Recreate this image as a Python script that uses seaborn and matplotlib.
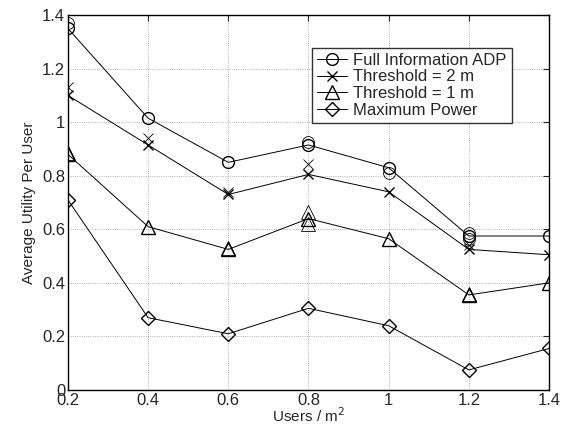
import numpy as np
import pandas as pd
import matplotlib
matplotlib.use('Agg')
import matplotlib.pyplot as plt
import seaborn as sns

sns.set_style('white')
plt.rcParams['font.family'] = ['Liberation Sans', 'DejaVu Sans']
plt.rcParams['font.size'] = 11

# данные
users = [0.2, 0.4, 0.6, 0.8, 1.0, 1.2, 1.4]
full_adp = [1.35, 1.015, 0.85, 0.915, 0.83, 0.575, 0.575]
thr_2m = [1.10, 0.915, 0.73, 0.805, 0.74, 0.525, 0.505]
thr_1m = [0.88, 0.61, 0.525, 0.64, 0.565, 0.355, 0.40]
max_power = [0.71, 0.27, 0.21, 0.305, 0.24, 0.075, 0.155]

# дополнительные (несоединённые) точки
extra_adp_x = [0.2, 0.8, 1.0, 1.2, 1.2]
extra_adp_y = [1.37, 0.925, 0.81, 0.585, 0.565]
extra_2m_x = [0.2, 0.4, 0.6, 0.8, 1.2]
extra_2m_y = [1.13, 0.94, 0.74, 0.845, 0.54]
extra_1m_x = [0.2, 0.6, 0.8, 0.8, 1.2]
extra_1m_y = [0.885, 0.53, 0.665, 0.62, 0.36]

sizes = {'o': 8.5, 'x': 7, '^': 10, 'D': 7.5}

series = [
    ('Full Information ADP', full_adp, 'o', extra_adp_x, extra_adp_y),
    ('Threshold = 2 m', thr_2m, 'x', extra_2m_x, extra_2m_y),
    ('Threshold = 1 m', thr_1m, '^', extra_1m_x, extra_1m_y),
    ('Maximum Power', max_power, 'D', [], []),
]

fig, ax = plt.subplots(figsize=(5.66, 4.30), dpi=100)
fig.subplots_adjust(left=0.12, right=0.97, top=0.965, bottom=0.093)

for name, vals, mk, ex, ey in series:
    ms = sizes[mk]
    df = pd.DataFrame({'x': users, 'y': vals})
    sns.lineplot(data=df, x='x', y='y', ax=ax, color='black', lw=0.7,
                 marker=mk, markersize=ms, markerfacecolor='none',
                 markeredgecolor='black', markeredgewidth=1.0, label=name)
    if ex:
        ax.plot(ex, ey, linestyle='none', marker=mk, markersize=ms,
                markerfacecolor='none', markeredgecolor='black',
                markeredgewidth=0.6)

ax.set_xlim(0.2, 1.4)
ax.set_ylim(0, 1.4)
ax.set_xticks(users)
ax.set_xticklabels(['0.2', '0.4', '0.6', '0.8', '1', '1.2', '1.4'])
ax.set_yticks([0, 0.2, 0.4, 0.6, 0.8, 1, 1.2, 1.4])
ax.set_yticklabels(['0', '0.2', '0.4', '0.6', '0.8', '1', '1.2', '1.4'])
ax.grid(True, linestyle=':', color='#999999', lw=0.6)
ax.tick_params(direction='in', length=4, width=0.8, labelsize=12, pad=2,
               top=True, right=True)
for s in ax.spines.values():
    s.set_color('black')
    s.set_linewidth(1.0)
ax.set_xlabel('Users / m$^2$', fontsize=11, labelpad=-1)
ax.set_ylabel('Average Utility Per User', fontsize=11, labelpad=4)

leg = ax.legend(loc='upper right', bbox_to_anchor=(0.94, 0.935),
                frameon=True, fancybox=False, edgecolor='black',
                fontsize=12, handlelength=1.8, handletextpad=0.4,
                borderpad=0.3, labelspacing=0.1)
leg.get_frame().set_linewidth(1.0)

plt.savefig('out.png', dpi=100)
